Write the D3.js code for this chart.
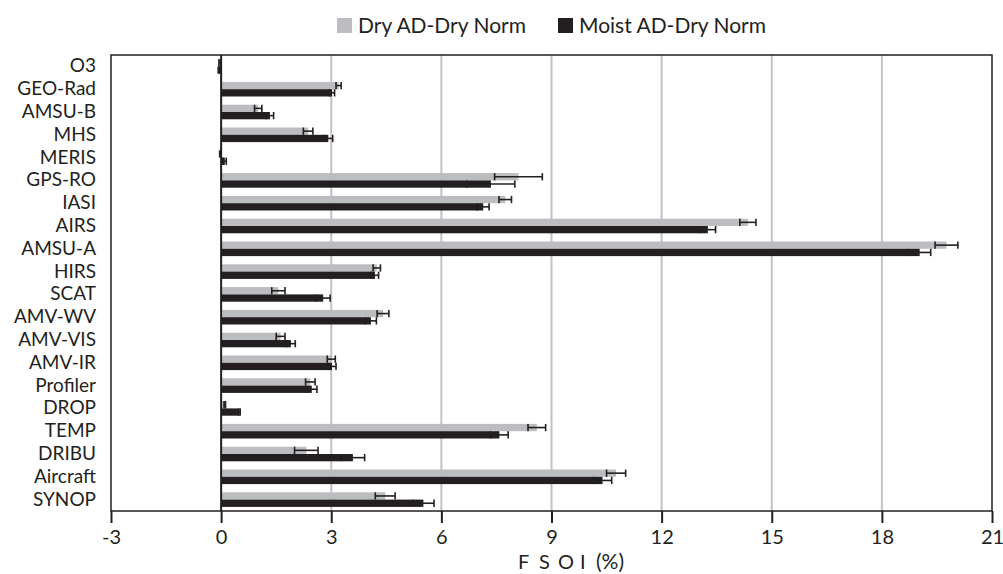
<!DOCTYPE html>
<html><head><meta charset="utf-8">
<script src="https://cdn.jsdelivr.net/npm/d3@7"></script>
<style>body{margin:0;background:#fff;}svg{display:block;font-family:Lato,"Open Sans",sans-serif;}</style>
</head><body><svg id="c" width="1003" height="574"></svg>
<script>
const categories = ["O3","GEO-Rad","AMSU-B","MHS","MERIS","GPS-RO","IASI","AIRS","AMSU-A","HIRS","SCAT","AMV-WV","AMV-VIS","AMV-IR","Profiler","DROP","TEMP","DRIBU","Aircraft","SYNOP"];
const dryValues   = [-0.04, 3.2, 1.01, 2.37, -0.02, 8.1, 7.74, 14.35, 19.76, 4.24, 1.56, 4.41, 1.62, 3.0, 2.43, 0.1, 8.6, 2.32, 10.76, 4.47];
const dryErrors   = [0.02, 0.07, 0.1, 0.13, 0.02, 0.65, 0.17, 0.22, 0.31, 0.1, 0.18, 0.16, 0.12, 0.11, 0.13, 0.02, 0.24, 0.32, 0.26, 0.27];
const moistValues = [-0.06, 3.02, 1.33, 2.92, 0.1, 7.35, 7.14, 13.26, 19.03, 4.19, 2.78, 4.08, 1.9, 3.02, 2.47, 0.5, 7.58, 3.59, 10.39, 5.51];
const moistErrors = [0.02, 0.07, 0.1, 0.12, 0.04, 0.65, 0.16, 0.21, 0.3, 0.1, 0.19, 0.15, 0.12, 0.11, 0.14, 0.02, 0.24, 0.32, 0.25, 0.29];
const xTicks = [-3,0,3,6,9,12,15,18,21];
const xTickLabels = ["-3","0","3","6","9","12","15","18","21"];
const seriesNames = ["Dry AD-Dry Norm","Moist AD-Dry Norm"];
const seriesColors = ["#bcbdc0","#231f20"];
const titleLetters = ["F","S","O","I"];

const svg = d3.select("#c");
const L = 111, R = 992, T = 55, B = 511;
const FS = 19;
const FONT = "Lato,'Open Sans',sans-serif";
const x = d3.scaleLinear().domain([-3,21]).range([L,R]);
const y = d3.scaleBand().domain(categories).range([T,B]).paddingInner(0).paddingOuter(0);
const bh = 7.3;

// gridlines
svg.append("g").selectAll("line").data(xTicks.filter(d=>d>0 && d<21)).join("line")
  .attr("x1",d=>x(d)).attr("x2",d=>x(d)).attr("y1",T).attr("y2",B)
  .attr("stroke","#c2c2c4").attr("stroke-width",2);

const series = [
  {vals: dryValues, errs: dryErrors, off: -bh},
  {vals: moistValues, errs: moistErrors, off: 0}
];
series.forEach((s,si)=>{
  const g = svg.append("g");
  g.selectAll("rect").data(categories).join("rect")
    .attr("x",(c,i)=>Math.min(x(0),x(s.vals[i])))
    .attr("width",(c,i)=>Math.abs(x(s.vals[i])-x(0)))
    .attr("y",c=>y(c)+y.bandwidth()/2+s.off)
    .attr("height",bh)
    .attr("fill",seriesColors[si]);
});
series.forEach((s,si)=>{
  const g = svg.append("g").attr("stroke","#231f20").attr("stroke-width",1.6).attr("fill","none");
  categories.forEach((c,i)=>{
    const yc = y(c)+y.bandwidth()/2+s.off+bh/2;
    const x1 = x(s.vals[i]-s.errs[i]), x2 = x(s.vals[i]+s.errs[i]);
    g.append("line").attr("x1",x1).attr("x2",x2).attr("y1",yc).attr("y2",yc);
    g.append("line").attr("x1",x1).attr("x2",x1).attr("y1",yc-bh/2).attr("y2",yc+bh/2);
    g.append("line").attr("x1",x2).attr("x2",x2).attr("y1",yc-bh/2).attr("y2",yc+bh/2);
  });
});

// frame
svg.append("rect").attr("x",L).attr("y",T).attr("width",R-L).attr("height",B-T)
  .attr("fill","none").attr("stroke","#231f20").attr("stroke-width",1.5);
// zero line
svg.append("line").attr("x1",x(0)).attr("x2",x(0)).attr("y1",T).attr("y2",B)
  .attr("stroke","#231f20").attr("stroke-width",2);

// x axis
const xa = svg.append("g").attr("transform",`translate(0,${B})`)
  .call(d3.axisBottom(x).tickValues(xTicks).tickSize(12).tickPadding(7).tickFormat((d,i)=>xTickLabels[i]));
xa.select(".domain").remove();
xa.selectAll("line").attr("stroke","#231f20").attr("stroke-width",2);
xa.selectAll("text").attr("font-size",20).attr("fill","#231f20").attr("font-family",FONT);

// y labels
const ya = svg.append("g").attr("transform",`translate(${L},0)`)
  .call(d3.axisLeft(y).tickSize(0).tickPadding(15));
ya.select(".domain").remove();
ya.selectAll("text").attr("font-size",FS).attr("fill","#231f20").attr("font-family",FONT);

// x title
const tt = svg.append("text").attr("y",569).attr("font-size",20).attr("fill","#231f20").attr("font-family",FONT);
const letterX = [518,539,558,580];
titleLetters.forEach((t,i)=>tt.append("tspan").attr("x",letterX[i]).text(t));
tt.append("tspan").attr("x",596).attr("font-size",21).text("(%)");

// legend
const leg = [{x:337,t:seriesNames[0],c:seriesColors[0]},{x:558,t:seriesNames[1],c:seriesColors[1]}];
leg.forEach(l=>{
  svg.append("rect").attr("x",l.x).attr("y",18).attr("width",15).attr("height",15).attr("fill",l.c);
  svg.append("text").attr("x",l.x+21).attr("y",32.5).attr("font-size",21).attr("fill","#231f20").attr("font-family",FONT).text(l.t);
});
</script></body></html>
